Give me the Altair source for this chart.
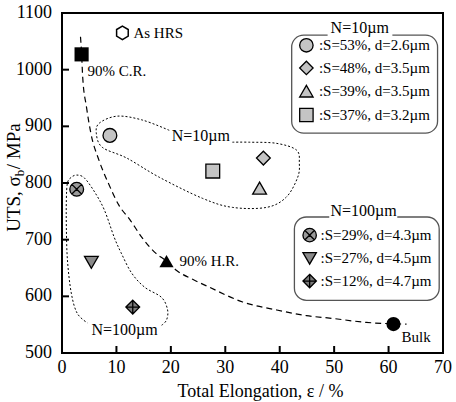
import altair as alt
import pandas as pd

SERIF = "Liberation Serif"

# ---- axis ticks ----
x_ticks = [0, 10, 20, 30, 40, 50, 60, 70]
y_ticks = [500, 600, 700, 800, 900, 1000, 1100]
x_title = "Total Elongation, \u03b5 / %"
y_title_parts = ["UTS, \u03c3", "b", " / MPa"]

# ---- processed states (black markers) ----
proc_label = ["90% C.R.", "90% H.R.", "Bulk"]
proc_elong = [3.6, 19.2, 60.9]
proc_uts = [1027, 662, 551]
proc_shape = ["square", "triangle-up", "circle"]

# as hot-rolled sheet (open hexagon)
hrs_label = ["As HRS"]
hrs_elong = [11.1]
hrs_uts = [1065]

# ---- N = 10 um group ----
n10_label = [":S=53%, d=2.6\u00b5m", ":S=48%, d=3.5\u00b5m", ":S=39%, d=3.5\u00b5m", ":S=37%, d=3.2\u00b5m"]
n10_elong = [8.8, 37.0, 36.3, 27.7]
n10_uts = [884, 844, 791, 821]
n10_shape = ["circle", "diamond", "triangle-up", "square"]
n10_fill = ["#c4c4c4", "#c4c4c4", "#c4c4c4", "#c4c4c4"]

# ---- N = 100 um group ----
CROSSED_CIRCLE = ("M-1,0A1,1 0 1,0 1,0A1,1 0 1,0 -1,0Z"
                  "M-0.7,-0.7L0.7,0.7M-0.7,0.7L0.7,-0.7")
DIAMOND_PLUS = "M0,-1L1,0L0,1L-1,0Z M0,-1L0,1 M-1,0L1,0"
HEXAGON = "M0,-1L0.866,-0.5L0.866,0.5L0,1L-0.866,0.5L-0.866,-0.5Z"

n100_label = [":S=29%, d=4.3\u00b5m", ":S=27%, d=4.5\u00b5m", ":S=12%, d=4.7\u00b5m"]
n100_elong = [2.7, 5.4, 13.0]
n100_uts = [789, 660, 581]
n100_shape = [CROSSED_CIRCLE, "triangle-down", DIAMOND_PLUS]
n100_fill = ["#9a9a9a", "#8a8a8a", "#7a7a7a"]

# ---- dashed strength-ductility trend ----
trend_elong = [3.4, 3.6, 3.8, 4.5, 5.3, 6.8, 8.5, 10.5, 12.5, 14.6, 17.0, 19.2,
               21.0, 24.0, 27.1, 33.2, 39.4, 44.9, 49.7, 55.9, 63.3]
trend_uts = [1058, 1028, 987, 934, 888, 840, 800, 760, 735, 705, 678, 662,
             646, 630, 616, 590, 576, 566, 561, 554, 551]

# ---- dotted group envelopes ----
env10_elong = [31.3, 34.4, 39.4, 43.1, 43.6, 43.3, 41.2, 37.6, 31.3, 25.8,
               17.9, 11.9, 7.4, 6.3, 6.9, 10.2, 14.8, 19.7]
env10_uts = [872, 872, 870, 858, 835, 810, 775, 757, 757, 773,
             810, 844, 863, 888, 906, 918, 911, 893]
env100_elong = [18.3, 19.2, 19.4, 18.3, 15.2, 12.8, 10.9, 9.6, 7.8, 6.0,
                4.1, 2.7, 1.7, 1.0, 0.8, 0.8, 1.0, 1.7, 2.8, 4.7]
env100_uts = [549, 558, 576, 598, 616, 641, 676, 704, 752, 784,
              809, 814, 810, 800, 770, 722, 664, 606, 570, 553]

# group captions inside the plot
grp_text = ["N=10\u00b5m", "N=100\u00b5m"]
grp_elong = [25.5, 11.5]
grp_uts = [883, 540]

# ---- legend boxes (in data units) ----
box_title = ["N=10\u00b5m", "N=100\u00b5m"]
box_x = [42.2, 42.7]
box_x2 = [69.0, 69.3]
box_y = [1061, 740]
box_y2 = [888, 593]
box_gap_x = [48.8, 49.1]
box_gap_x2 = [60.7, 61.6]
box_title_x = [54.7, 55.4]
box_title_y = [1074, 750]
leg10_row_y = [1043, 1003, 962, 920]
leg100_row_y = [708, 667, 627]
leg10_sym_x, leg10_txt_x = 44.9, 47.2
leg100_sym_x, leg100_txt_x = 45.5, 47.5

W, H = 381, 340
X_MIN, X_MAX = 0, 70
Y_MIN, Y_MAX = 500, 1100
X = alt.Scale(domain=[X_MIN, X_MAX], nice=False)
Y = alt.Scale(domain=[Y_MIN, Y_MAX], nice=False)

# the axes themselves stay silent; ticks, labels and titles are drawn as marks
quiet_x = alt.Axis(values=x_ticks, labels=False, ticks=False, title=None,
                   domain=False, grid=False)
quiet_y = alt.Axis(values=y_ticks, labels=False, ticks=False, title=None,
                   domain=False, grid=False)

# inward tick length of 7 px expressed in data units of each axis
TICK_PX = 7
tick_dy = TICK_PX * (Y_MAX - Y_MIN) / H
tick_dx = TICK_PX * (X_MAX - X_MIN) / W

trend = pd.DataFrame({"e": trend_elong, "u": trend_uts, "o": range(len(trend_elong))})
env = pd.concat([
    pd.DataFrame({"g": "N10", "e": env10_elong, "u": env10_uts, "o": range(len(env10_elong))}),
    pd.DataFrame({"g": "N100", "e": env100_elong, "u": env100_uts, "o": range(len(env100_elong))}),
])
proc = pd.DataFrame({"label": proc_label, "e": proc_elong, "u": proc_uts, "shape": proc_shape})
hrs = pd.DataFrame({"label": hrs_label, "e": hrs_elong, "u": hrs_uts})
grp = pd.DataFrame({"e": n10_elong + n100_elong, "u": n10_uts + n100_uts,
                    "shape": n10_shape + n100_shape, "fill": n10_fill + n100_fill})
grp_cap = pd.DataFrame({"t": grp_text, "e": grp_elong, "u": grp_uts})
boxes = pd.DataFrame({"t": box_title, "x": box_x, "x2": box_x2, "y": box_y, "y2": box_y2,
                      "gx": box_gap_x, "gx2": box_gap_x2, "tx": box_title_x, "ty": box_title_y})
leg = pd.DataFrame({
    "label": n10_label + n100_label,
    "shape": n10_shape + n100_shape,
    "fill": n10_fill + n100_fill,
    "sx": [leg10_sym_x] * 4 + [leg100_sym_x] * 3,
    "tx": [leg10_txt_x] * 4 + [leg100_txt_x] * 3,
    "y": leg10_row_y + leg100_row_y,
})
xt = pd.DataFrame({"v": x_ticks, "u": Y_MIN, "u2": Y_MIN + tick_dy,
                   "t": [str(v) for v in x_ticks]})
yt = pd.DataFrame({"v": y_ticks, "e": X_MIN, "e2": X_MIN + tick_dx,
                   "t": [str(v) for v in y_ticks]})
titles = pd.DataFrame({"e": [(X_MIN + X_MAX) / 2], "u": [Y_MIN], "t": [x_title]})
ytitle = pd.DataFrame({"e": [X_MIN] * 3, "u": [812] * 3, "t": y_title_parts,
                       "part": [0, 1, 2]})

trend_line = alt.Chart(trend).mark_line(
    color="black", strokeWidth=1.2, strokeDash=[6, 4], interpolate="monotone"
).encode(x=alt.X("e:Q", scale=X, axis=quiet_x),
         y=alt.Y("u:Q", scale=Y, axis=quiet_y), order="o:Q")

env_line = alt.Chart(env).mark_line(
    color="black", strokeWidth=1, strokeDash=[2, 2], interpolate="cardinal"
).encode(x="e:Q", y="u:Q", detail="g:N", order="o:Q")

# inward tick marks on the bottom and left edges
x_tick_marks = alt.Chart(xt).mark_rule(color="black", strokeWidth=2).encode(
    x="v:Q", y="u:Q", y2="u2")
y_tick_marks = alt.Chart(yt).mark_rule(color="black", strokeWidth=2).encode(
    x="e:Q", x2="e2", y="v:Q")

frame = alt.Chart(boxes).mark_rect(
    fill="white", stroke="#555555", strokeWidth=1.3, cornerRadius=12
).encode(x="x:Q", x2="x2", y="y:Q", y2="y2")
frame_gap = alt.Chart(boxes).mark_rule(color="white", strokeWidth=4).encode(
    x="gx:Q", x2="gx2", y="y:Q")
frame_title = alt.Chart(boxes).mark_text(
    font=SERIF, fontSize=16, color="black", baseline="middle"
).encode(x="tx:Q", y="ty:Q", text="t:N")

leg_sym = alt.Chart(leg).mark_point(
    filled=True, size=180, stroke="black", strokeWidth=1.3, opacity=1
).encode(x="sx:Q", y="y:Q",
         shape=alt.Shape("shape:N", scale=None),
         fill=alt.Fill("fill:N", scale=None))
leg_txt = alt.Chart(leg).mark_text(
    font=SERIF, fontSize=15, color="black", align="left", baseline="middle"
).encode(x="tx:Q", y="y:Q", text="label:N")

grp_pts = alt.Chart(grp).mark_point(
    filled=True, size=190, stroke="black", strokeWidth=1.3, opacity=1
).encode(x="e:Q", y="u:Q",
         shape=alt.Shape("shape:N", scale=None),
         fill=alt.Fill("fill:N", scale=None))

proc_pts = alt.Chart(proc).mark_point(
    filled=True, size=200, color="black", opacity=1
).encode(x="e:Q", y="u:Q", shape=alt.Shape("shape:N", scale=None))


def proc_label_mark(name, dx, dy):
    """Caption for one processed state, offset from its marker."""
    return alt.Chart(proc).transform_filter(
        alt.datum.label == name
    ).mark_text(
        font=SERIF, fontSize=15, color="black", align="left", baseline="middle",
        dx=dx, dy=dy,
    ).encode(x="e:Q", y="u:Q", text="label:N")


cr_txt = proc_label_mark("90% C.R.", 6, 17)
hr_txt = proc_label_mark("90% H.R.", 13, 0)
bulk_txt = proc_label_mark("Bulk", 8, 13)

hrs_pt = alt.Chart(hrs).mark_point(
    shape=HEXAGON, size=180, fill="white", stroke="black", strokeWidth=1.5, opacity=1
).encode(x="e:Q", y="u:Q")
hrs_txt = alt.Chart(hrs).mark_text(
    font=SERIF, fontSize=15, color="black", align="left", baseline="middle", dx=11
).encode(x="e:Q", y="u:Q", text="label:N")

cap_txt = alt.Chart(grp_cap).mark_text(
    font=SERIF, fontSize=16, color="black", baseline="middle"
).encode(x="e:Q", y="u:Q", text="t:N")

# tick labels and axis titles
x_lab = alt.Chart(xt).mark_text(
    font=SERIF, fontSize=18, color="black", baseline="middle", dy=15
).encode(x="v:Q", y="u:Q", text="t:N")
y_lab = alt.Chart(yt).mark_text(
    font=SERIF, fontSize=18, color="black", align="right", baseline="middle", dx=-10
).encode(x="e:Q", y="v:Q", text="t:N")
x_tit = alt.Chart(titles).mark_text(
    font=SERIF, fontSize=18, color="black", baseline="middle", dx=8, dy=39
).encode(x="e:Q", y="u:Q", text="t:N")


def y_title_piece(part, align, size, dx, dy):
    """One run of the rotated y-axis title (text frame: dx up, dy right)."""
    return alt.Chart(ytitle).transform_filter(
        alt.datum.part == part
    ).mark_text(
        font=SERIF, fontSize=size, color="black", angle=270, align=align,
        baseline="alphabetic", dx=dx, dy=dy,
    ).encode(x="e:Q", y="u:Q", text="t:N")


y_tit = [
    y_title_piece(0, "right", 19, 0, -42),
    y_title_piece(1, "left", 13, 0, -38),
    y_title_piece(2, "left", 19, 7, -42),
]

chart = alt.layer(
    trend_line, env_line, x_tick_marks, y_tick_marks, frame, frame_gap,
    frame_title, leg_sym, leg_txt, cap_txt, grp_pts, proc_pts, cr_txt, hr_txt,
    bulk_txt, hrs_pt, hrs_txt, x_lab, y_lab, x_tit, *y_tit,
).properties(
    width=W, height=H, autosize="none",
    padding={"left": 62, "top": 13, "right": 13, "bottom": 49},
).configure_view(stroke="black", strokeWidth=2)

chart.save("out.html", embed_options={"renderer": "svg", "actions": False})
